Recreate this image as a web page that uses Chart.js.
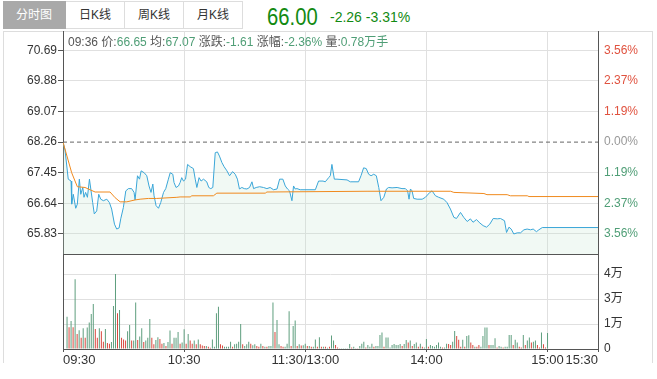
<!DOCTYPE html>
<html>
<head>
<meta charset="utf-8">
<script src="https://cdn.jsdelivr.net/npm/chart.js@4.4.1/dist/chart.umd.min.js"></script>
<style>
html,body{margin:0;padding:0;background:#fff;}
body{width:657px;height:379px;position:relative;overflow:hidden;font-family:"Liberation Sans","Noto Sans CJK SC",sans-serif;}
.frame{position:absolute;left:3px;top:31px;width:650px;height:332px;border-left:1px solid #ddd;border-right:1px solid #ddd;border-top:1px solid #ddd;box-sizing:border-box;}
.tab{position:absolute;top:1px;height:28px;line-height:26px;text-align:center;font-size:12px;color:#333;box-sizing:border-box;border-top:1px solid #ddd;border-bottom:1px solid #ddd;border-right:1px solid #ddd;background:#fff;}
.tab.on{background:#a9a9a9;color:#fff;border-color:#a9a9a9;}
#quote{position:absolute;left:267px;top:4px;font-size:23px;line-height:26px;color:#128a12;transform:scaleX(0.88);transform-origin:left top;white-space:nowrap;}
#chg{position:absolute;left:330px;top:8px;font-size:14px;line-height:18px;color:#128a12;white-space:nowrap;}
#info{position:absolute;left:68px;top:35px;font-size:12px;line-height:14px;color:#555;white-space:nowrap;}
#info .g{color:#4f9e76;}
canvas{position:absolute;left:0;}
</style>
</head>
<body>
<div class="frame"></div>
<div id="tabs"></div>
<div id="quote"></div>
<div id="chg"></div>
<canvas id="pc" width="657" height="224" style="top:31px;width:657px;height:224px"></canvas>
<canvas id="vc" width="657" height="115" style="top:255px;width:657px;height:115px"></canvas>
<div id="info"></div>
<script>
// ---------- data ----------
const tabLabels = ['分时图', '日K线', '周K线', '月K线'];
const lastPrice = '66.00', lastChange = '-2.26', lastPct = '-3.31%';
const infoTime = '09:36', infoPrice = '66.65', infoAvg = '67.07', infoChange = '-1.61', infoPct = '-2.36%', infoVol = '0.78万手';

const prevClose = 68.26;
const priceTicks = [65.83, 66.64, 67.45, 68.26, 69.07, 69.88, 70.69];
const priceMin = 65.30, priceMax = 71.20;

const xMax = 265;
const timeTickMinutes = [0, 60, 120, 180, 240, 265];
const timeTickLabels = ['09:30', '10:30', '11:30/13:00', '14:00', '15:00', '15:30'];

const volTicks = [0, 14000, 28000, 42000];
const volMax = 52640;

const priceMinutes = [
  0, 1.0, 2.6, 4.0, 4.3, 5.1, 6.3, 7.1, 8.1, 8.8,
  9.8, 10.4, 11.2, 12.1, 13.1, 13.9, 14.7, 15.5, 16.7, 17.7,
  18.7, 20.0, 21.7, 23.0, 24.1, 25.5, 26.6, 27.8, 28.6, 29.9,
  31.1, 32.4, 34.0, 35.2, 35.7, 36.9, 37.9, 38.7, 40.2, 41.5,
  42.6, 43.6, 44.5, 45.1, 46.1, 47.3, 48.4, 49.8, 50.9, 52.2,
  53.1, 54.4, 55.0, 56.0, 57.2, 58.0, 58.8, 59.7, 60.7, 61.7,
  63.0, 64.6, 65.5, 66.3, 67.4, 68.4, 69.6, 71.2, 72.2, 73.2,
  74.2, 75.4, 76.5, 77.5, 78.7, 79.8, 81.2, 82.5, 84.0, 85.3,
  86.4, 87.4, 88.6, 89.8, 91.1, 92.4, 93.6, 94.4, 95.7, 97.4,
  99.3, 101.0, 102.6, 104.3, 106.0, 107.3, 108.9, 110.1, 111.2, 112.2,
  113.4, 114.2, 115.0, 115.9, 117.5, 125.0, 126.6, 128.8, 129.9, 131.6,
  132.4, 133.2, 134.4, 135.7, 140.7, 142.3, 146.4, 147.6, 148.9, 150.2,
  151.4, 152.6, 153.9, 155.2, 156.4, 157.5, 158.9, 160.2, 161.3, 163.0,
  165.5, 167.9, 169.6, 170.7, 171.4, 172.1, 172.9, 173.7, 175.4, 177.9,
  179.5, 181.7, 182.8, 184.5, 186.1, 188.6, 190.2, 191.9, 193.6, 194.9,
  196.9, 198.5, 200.2, 201.8, 203.1, 204.8, 206.5, 208.1, 209.8, 211.4,
  213.1, 215.1, 216.7, 218.7, 219.7, 220.9, 222.0, 223.3, 225.0, 226.6,
  228.3, 229.9, 231.6, 232.9, 234.5, 235.7, 237.4, 265
];
const prices = [
  68.26, 68.05, 67.28, 67.23, 66.62, 66.88, 66.51, 66.62, 67.28, 66.88,
  67.06, 66.80, 66.93, 66.80, 67.28, 66.97, 66.66, 66.36, 66.44, 66.88,
  66.75, 66.71, 66.75, 66.66, 66.49, 66.09, 65.96, 65.99, 66.23, 66.53,
  66.97, 67.03, 67.03, 66.93, 66.73, 67.37, 67.28, 67.50, 67.45, 67.37,
  67.10, 66.93, 67.15, 66.84, 66.58, 66.51, 66.66, 66.93, 67.03, 67.28,
  67.45, 67.41, 67.19, 67.06, 67.10, 67.19, 67.32, 67.23, 67.28, 67.67,
  67.61, 67.56, 67.28, 67.06, 67.32, 67.23, 67.28, 67.21, 67.06, 67.03,
  67.06, 67.98, 68.00, 67.89, 67.72, 67.61, 67.50, 67.37, 67.48, 67.41,
  67.28, 67.02, 67.06, 67.03, 67.02, 67.06, 67.21, 67.03, 67.06, 67.08,
  67.06, 67.03, 67.06, 67.00, 67.02, 67.28, 67.28, 67.10, 67.02, 66.97,
  66.71, 67.10, 67.02, 67.03, 67.00, 67.00, 67.23, 67.23, 67.21, 67.32,
  67.37, 67.67, 67.28, 67.28, 67.26, 67.21, 67.21, 67.37, 67.58, 67.56,
  67.41, 67.37, 67.41, 67.37, 67.06, 66.71, 66.80, 67.02, 67.06, 67.05,
  67.06, 67.03, 67.03, 66.97, 66.75, 67.02, 66.97, 66.77, 66.75, 66.75,
  66.80, 66.93, 66.97, 66.84, 66.80, 66.75, 66.66, 66.49, 66.27, 66.24,
  66.40, 66.27, 66.16, 66.23, 66.14, 66.21, 66.12, 66.05, 66.01, 66.09,
  66.24, 66.23, 66.24, 66.18, 65.87, 66.01, 65.96, 65.83, 65.86, 65.86,
  65.94, 65.96, 65.94, 65.96, 65.89, 65.94, 66.00, 66.00
];

const avgMinutes = [0, 4.3, 7.1, 10.9, 13.4, 15.9, 23.3, 25.8, 28.3, 31.6,
  35.7, 38.2, 42.3, 46.4, 56.4, 58.0, 63.0, 63.8, 74.5, 76.2,
  100.2, 101.0, 150.6, 192.0, 193.6, 208.5, 210.0, 220.0, 221.6, 230.0,
  230.8, 265];
const avgPrices = [68.26, 67.45, 67.08, 67.06, 67.00, 66.94, 66.94, 66.79, 66.68, 66.68,
  66.73, 66.75, 66.77, 66.77, 66.80, 66.81, 66.81, 66.84, 66.84, 66.91,
  66.91, 66.94, 66.96, 66.96, 66.93, 66.90, 66.87, 66.87, 66.84, 66.84,
  66.82, 66.82];

const volumes = [
  0, 0, 18100, 12200, 15700, 12200, 39000, 8400, 10500, 6300,
  11600, 6300, 12100, 14900, 19600, 25200, 11200, 6300, 11600, 10000,
  4000, 11200, 3300, 3000, 3900, 24100, 42000, 20000, 21900, 6300,
  5300, 4800, 10000, 13400, 4800, 4800, 26000, 5100, 7000, 11600,
  3900, 4700, 6300, 16800, 6300, 2600, 5100, 6600, 5600, 3000,
  3300, 1700, 3900, 10300, 3000, 6300, 6300, 9500, 3000, 3700,
  11000, 3000, 8400, 4800, 3000, 4700, 2600, 5300, 2600, 2000,
  1700, 1700, 1300, 750, 5300, 1300, 20000, 23700, 2600, 2000,
  1300, 1300, 1300, 4100, 1300, 2600, 3000, 4100, 14000, 2600,
  1700, 2600, 4100, 3000, 2100, 2600, 1700, 1300, 3000, 1700,
  1300, 1300, 1700, 1700, 26000, 9500, 16200, 2600, 1700, 1300,
  1300, 3000, 21100, 1700, 12900, 15900, 1700, 2600, 2000, 2100,
  3000, 1700, 1700, 1300, 1300, 5300, 1300, 6600, 1300, 1300,
  1300, 750, 1300, 7500, 4700, 2200, 900, 400, 400, 400,
  400, 400, 2800, 900, 1300, 400, 400, 1700, 3000, 4000,
  900, 2200, 1300, 3000, 1300, 1700, 1700, 7800, 9200, 1300,
  6500, 6500, 900, 2200, 2800, 2200, 2200, 2800, 1700, 2800,
  5000, 3600, 4700, 1700, 2800, 3600, 1300, 3000, 1300, 900,
  5600, 1300, 2200, 1700, 1300, 2200, 3700, 1300, 900, 900,
  3000, 2800, 2200, 4000, 10100, 7300, 5200, 1300, 5200, 1300,
  7300, 7700, 3600, 2200, 1300, 1300, 2200, 1300, 7300, 12100,
  12100, 2200, 2200, 2200, 6000, 900, 1700, 1300, 900, 1300,
  1300, 7800, 7800, 2200, 5200, 3600, 1300, 900, 7800, 2200,
  4700, 6500, 3600, 4000, 4700, 2200, 900, 9300, 2600, 900,
  9000
];
const volUp = [
  1,1,1,0,1,0,1,0,1,0,
  1,0,1,1,1,1,0,0,1,0,
  0,1,0,0,1,1,1,0,1,0,
  0,0,1,1,0,1,1,0,1,1,
  0,1,1,1,0,0,1,1,0,0,
  1,0,1,1,0,1,1,1,0,1,
  1,0,1,0,0,1,0,1,0,0,
  0,1,0,0,1,1,1,1,0,0,
  1,1,1,1,0,1,1,1,1,0,
  1,1,1,0,1,1,0,0,1,0,
  1,0,1,1,1,0,1,1,0,0,
  1,1,1,0,1,1,0,1,0,1,
  1,0,1,0,1,1,0,1,0,1,
  0,1,0,1,1,0,0,1,1,1,
  1,1,1,0,1,1,0,1,1,1,
  0,1,1,1,0,1,1,1,1,0,
  1,1,1,1,1,1,1,1,0,1,
  1,0,1,0,1,1,0,1,0,1,
  1,0,1,1,1,1,1,1,0,1,
  1,0,0,1,1,0,0,0,1,0,
  1,1,0,0,1,0,0,1,1,1,
  1,0,1,1,1,0,1,1,0,1,
  1,1,1,0,1,1,0,0,1,0,
  1,1,0,1,1,0,0,1,0,0,
  1
];

// ---------- html texts ----------
const tabPos = [[3, 63], [66, 59], [125, 59], [184, 59]];
const tabsEl = document.getElementById('tabs');
tabLabels.forEach((t, i) => {
  const d = document.createElement('div');
  d.className = 'tab' + (i === 0 ? ' on' : '');
  d.style.left = tabPos[i][0] + 'px';
  d.style.width = tabPos[i][1] + 'px';
  d.textContent = t;
  tabsEl.appendChild(d);
});
document.getElementById('quote').textContent = lastPrice;
document.getElementById('chg').textContent = lastChange + ' ' + lastPct;
const g = v => '<span class="g">' + v + '</span>';
document.getElementById('info').innerHTML =
  infoTime + ' 价:' + g(infoPrice) + ' 均:' + g(infoAvg) + ' 涨跌:' + g(infoChange) +
  ' 涨幅:' + g(infoPct) + ' 量:' + g(infoVol);

// ---------- charts ----------
Chart.defaults.font.family = '"Liberation Sans","Noto Sans CJK SC",sans-serif';
Chart.defaults.font.size = 12;
const GRID = '#e0e0e0', AXIS = '#555';
const fixW = w => s => { s.width = w; s.paddingTop = 0; s.paddingBottom = 0; };
const setTicks = arr => s => { s.ticks = arr.map(v => ({ value: v })); };
const common = {
  responsive: false, animation: false, events: [],
  layout: { padding: 0 },
  plugins: { legend: { display: false }, tooltip: { enabled: false } }
};

new Chart(document.getElementById('pc'), {
  type: 'line',
  data: {
    datasets: [
      { data: priceMinutes.map((m, i) => ({ x: m, y: prices[i] })), borderColor: '#3aa6d8', borderWidth: 1,
        pointRadius: 0, fill: 'start', backgroundColor: 'rgba(190,228,205,0.22)', order: 3 },
      { data: avgMinutes.map((m, i) => ({ x: m, y: avgPrices[i] })), borderColor: '#f08a1e', borderWidth: 1,
        pointRadius: 0, fill: false, order: 2 },
      { data: [{ x: 0, y: prevClose }, { x: xMax, y: prevClose }], borderColor: '#666', borderWidth: 1,
        borderDash: [4, 3], pointRadius: 0, fill: false, order: 1 }
    ]
  },
  options: Object.assign({}, common, {
    scales: {
      x: { type: 'linear', min: 0, max: xMax, afterBuildTicks: setTicks(timeTickMinutes),
        ticks: { display: false }, grid: { color: GRID, drawTicks: false }, border: { color: AXIS },
        afterFit: s => { s.height = 1; s.paddingLeft = 0; s.paddingRight = 0; } },
      y: { position: 'left', min: priceMin, max: priceMax, afterBuildTicks: setTicks(priceTicks),
        ticks: { color: '#333', padding: 1, callback: v => v.toFixed(2) },
        grid: { color: c => (c.tick && c.tick.value === prevClose) ? 'rgba(0,0,0,0)' : GRID, tickColor: AXIS, tickLength: 5 },
        border: { color: AXIS }, afterFit: fixW(63) },
      yR: { position: 'right', min: priceMin, max: priceMax, afterBuildTicks: setTicks(priceTicks),
        ticks: { padding: 6,
          color: c => c.tick.value > prevClose ? '#e0523f' : (c.tick.value < prevClose ? '#4f9e76' : '#999'),
          callback: v => Math.abs((v - prevClose) / prevClose * 100).toFixed(2) + '%' },
        grid: { drawOnChartArea: false, drawTicks: false, tickLength: 0 },
        border: { color: AXIS }, afterFit: fixW(59) }
    }
  })
});

new Chart(document.getElementById('vc'), {
  type: 'bar',
  data: {
    datasets: [{ data: volumes.map((v, i) => ({ x: i, y: v })),
      backgroundColor: volUp.map(u => u ? '#5e9e7e' : '#d9473d'),
      barThickness: 1, borderWidth: 0, inflateAmount: 0, yAxisID: 'y' }]
  },
  options: Object.assign({}, common, {
    scales: {
      x: { type: 'linear', min: 0, max: xMax, offset: false, afterBuildTicks: setTicks(timeTickMinutes),
        ticks: { align: 'inner', color: '#333', padding: 1, font: { size: 13 }, maxRotation: 0, autoSkip: false,
          callback: v => timeTickLabels[timeTickMinutes.indexOf(v)] },
        grid: { color: GRID, tickColor: AXIS, tickLength: 3, offset: false }, border: { color: AXIS },
        afterFit: s => { s.height = 21; s.paddingLeft = 0; s.paddingRight = 0; } },
      yL: { position: 'left', min: 0, max: volMax, ticks: { display: false }, grid: { display: false },
        border: { color: AXIS }, afterFit: fixW(63) },
      y: { position: 'right', min: 0, max: volMax, afterBuildTicks: setTicks(volTicks),
        ticks: { color: '#333', padding: 6, callback: v => v === 0 ? '0' : Math.round(v / 10000) + '万' },
        grid: { color: c => (c.tick && c.tick.value === 0) ? 'rgba(0,0,0,0)' : GRID, drawTicks: false, tickLength: 0 },
        border: { color: AXIS }, afterFit: fixW(59) }
    }
  })
});
</script>
</body>
</html>
